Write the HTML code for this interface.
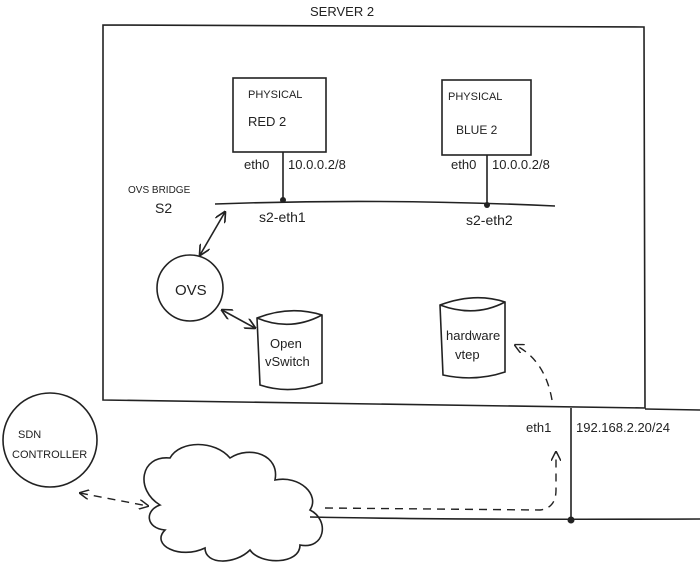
<!DOCTYPE html>
<html><head><style>
body{margin:0;background:#fff}
svg{display:block}
text{font-family:"Liberation Sans",sans-serif;fill:#222}
</style></head><body>
<svg width="700" height="562" viewBox="0 0 700 562" xmlns="http://www.w3.org/2000/svg">
<defs>
<marker id="a" viewBox="0 0 10 10" refX="9" refY="5" markerWidth="7" markerHeight="7" orient="auto-start-reverse"><path d="M0 0L10 5L0 10" fill="none" stroke="#222" stroke-width="1.5"/></marker>
</defs>
<g fill="none" stroke="#222" stroke-width="1.6">
<path d="M103 25 L644 27 L645 408 L103 400 Z"/>
<path d="M645 409 L700 410"/>
<rect x="233" y="78" width="93" height="74"/>
<rect x="442" y="80" width="89" height="75"/>
<path d="M215 204 Q380 198 555 206"/>
<path d="M283 152 V200"/><path d="M487 155 V205"/>
<circle cx="190" cy="288" r="33"/>
<path d="M257 318 Q290 305 322 315 V383 Q290 395 260 385 Z M257 318 Q290 332 322 315"/>
<path d="M440 305 Q475 292 505 302 V372 Q475 382 443 375 Z M440 305 Q475 318 505 302"/>
<path d="M200 255 L225 212" marker-start="url(#a)" marker-end="url(#a)"/>
<path d="M222 310 L255 328" marker-start="url(#a)" marker-end="url(#a)"/>
<path d="M571 408 V520"/>
<path d="M310 517 Q450 520 700 519"/>
<circle cx="50" cy="440" r="47"/>
<path d="M160 505 C135 490 140 455 170 458 C180 440 215 440 230 458 C250 445 280 455 275 480 C300 475 320 495 310 510 C330 520 325 550 300 545 C300 565 260 565 250 550 C235 565 205 565 205 548 C180 560 150 545 165 530 C145 528 145 510 160 505 Z"/>
<g stroke-dasharray="8 6" stroke-width="1.4">
<path d="M80 493 L148 506" marker-start="url(#a)" marker-end="url(#a)"/>
<path d="M325 508 L540 510 Q556 508 556 490 V452" marker-end="url(#a)"/>
<path d="M552 400 Q545 360 515 345" marker-end="url(#a)"/>
</g>
</g>
<circle cx="283" cy="200" r="3" fill="#222"/>
<circle cx="487" cy="205" r="3" fill="#222"/>
<circle cx="571" cy="520" r="3.5" fill="#222"/>
<text x="310" y="16" font-size="13">SERVER 2</text>
<text x="248" y="98" font-size="11">PHYSICAL</text>
<text x="248" y="126" font-size="13">RED 2</text>
<text x="448" y="100" font-size="11">PHYSICAL</text>
<text x="456" y="134" font-size="12">BLUE 2</text>
<text x="244" y="169" font-size="13">eth0</text>
<text x="288" y="169" font-size="13">10.0.0.2/8</text>
<text x="451" y="169" font-size="13">eth0</text>
<text x="492" y="169" font-size="13">10.0.0.2/8</text>
<text x="128" y="193" font-size="10">OVS BRIDGE</text>
<text x="155" y="213" font-size="14">S2</text>
<text x="259" y="222" font-size="14">s2-eth1</text>
<text x="466" y="225" font-size="14">s2-eth2</text>
<text x="175" y="295" font-size="15">OVS</text>
<text x="270" y="348" font-size="13">Open</text>
<text x="265" y="366" font-size="13">vSwitch</text>
<text x="446" y="340" font-size="13">hardware</text>
<text x="455" y="359" font-size="13">vtep</text>
<text x="526" y="432" font-size="13">eth1</text>
<text x="576" y="432" font-size="13">192.168.2.20/24</text>
<text x="18" y="438" font-size="11">SDN</text>
<text x="12" y="458" font-size="11">CONTROLLER</text>
</svg>
</body></html>
